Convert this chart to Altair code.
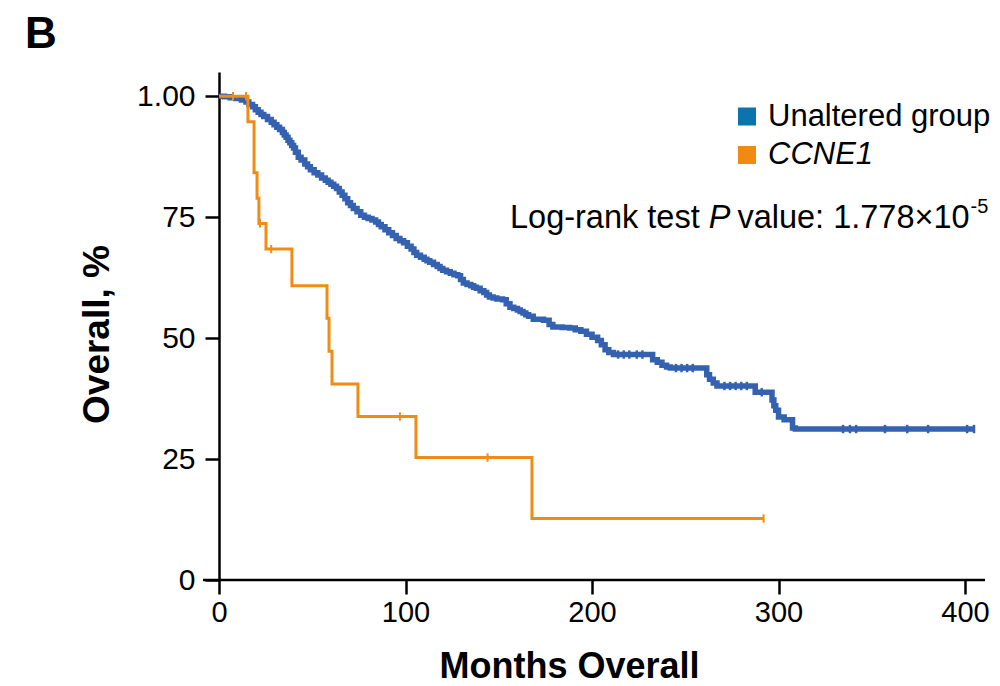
import altair as alt
import pandas as pd

# ---------------- data ----------------
blue_months = [0, 3, 6, 9, 12, 14.5, 16, 18, 19.5, 21, 22.5, 24, 26, 28, 29.5, 31, 32.5, 34, 35,
               36, 37, 38, 39, 40, 41, 42.5, 44, 46, 47.5, 49, 51, 53, 55, 57, 58.5, 60, 61.5, 63,
               64.5, 66, 67.5, 69, 70.5, 72, 74, 76, 78, 80, 82, 84, 85.5, 87, 89, 91, 93, 95, 97,
               99, 101, 103, 104.5, 106, 108, 110, 111.5, 113, 115, 117, 118.5, 120, 122, 124, 126,
               128, 129.5, 131, 133, 135, 136.5, 138, 140, 142, 143.5, 145, 147, 149, 152, 154,
               156, 158, 160, 161.5, 163, 164.5, 166, 168.5, 174, 177, 179, 184, 188, 191, 194,
               197, 200, 203, 205, 207, 209, 211.5, 232.5, 235, 237.5, 240, 242, 261.5, 263, 265,
               267, 287.5, 296.5, 297.5, 298.5, 300, 303, 307.5, 309, 405]
blue_surv = [1.000, 0.999, 0.997, 0.995, 0.992, 0.988, 0.983, 0.978, 0.972, 0.967, 0.962, 0.958,
             0.952, 0.946, 0.941, 0.936, 0.931, 0.925, 0.920, 0.915, 0.909, 0.904, 0.898, 0.893,
             0.884, 0.874, 0.868, 0.860, 0.854, 0.848, 0.842, 0.837, 0.831, 0.826, 0.822, 0.818,
             0.814, 0.809, 0.802, 0.795, 0.788, 0.780, 0.774, 0.768, 0.761, 0.754, 0.750, 0.747,
             0.744, 0.740, 0.735, 0.730, 0.724, 0.718, 0.712, 0.706, 0.701, 0.697, 0.690, 0.684,
             0.677, 0.671, 0.667, 0.663, 0.660, 0.657, 0.652, 0.648, 0.644, 0.640, 0.637, 0.634,
             0.631, 0.629, 0.621, 0.614, 0.611, 0.608, 0.605, 0.603, 0.598, 0.594, 0.589, 0.585,
             0.583, 0.581, 0.579, 0.571, 0.564, 0.561, 0.558, 0.555, 0.552, 0.548, 0.545, 0.539,
             0.537, 0.528, 0.523, 0.522, 0.521, 0.517, 0.514, 0.508, 0.502, 0.495, 0.486, 0.476,
             0.470, 0.466, 0.455, 0.450, 0.444, 0.440, 0.438, 0.424, 0.415, 0.407, 0.401, 0.388,
             0.372, 0.360, 0.351, 0.337, 0.331, 0.314, 0.312, 0.312]

blue_cens_months = [214, 217, 220, 224, 227, 245, 248, 251, 254, 271, 274, 277, 280, 283, 291,
                    334.6, 338.3, 341.6, 357.1, 369.0, 380.2, 401.1, 404.8]
blue_cens_surv = [0.466, 0.466, 0.466, 0.466, 0.466, 0.438, 0.438, 0.438, 0.438, 0.401, 0.401,
                  0.401, 0.401, 0.401, 0.388, 0.312, 0.312, 0.312, 0.312, 0.312, 0.312, 0.312, 0.312]

orange_months = [0, 15.5, 18.8, 20.4, 21.4, 25.2, 39.1, 57.9, 59.0, 60.6, 74.5, 105.6, 167.8, 292]
orange_surv = [1.0, 0.947, 0.842, 0.789, 0.737, 0.684, 0.608, 0.541, 0.473, 0.405, 0.338, 0.253,
               0.127, 0.127]
orange_cens_months = [7.5, 14.5, 22, 28, 97, 144, 292]
orange_cens_surv = [1.0, 1.0, 0.737, 0.684, 0.338, 0.253, 0.127]

x_ticks = [0, 100, 200, 300, 400]
y_ticks = [0, 0.25, 0.5, 0.75, 1.0]
legend_labels = ["Unaltered group", "CCNE1"]

BLUE_LINE = "#3462B0"
ORANGE = "#F08C14"
LEG_BLUE = "#0B74AC"
LEG_ORANGE = "#F08A12"
FONT = "Liberation Sans"

W, H = 766, 508
XDOM = [0, 410.7]
YDOM = [0, 1.05]

blue_df = pd.DataFrame({"m": blue_months, "s": blue_surv})
blue_c = pd.DataFrame({"m": blue_cens_months, "s": blue_cens_surv})
orange_df = pd.DataFrame({"m": orange_months, "s": orange_surv})
orange_c = pd.DataFrame({"m": orange_cens_months, "s": orange_cens_surv})

xs = alt.Scale(domain=XDOM, nice=False, zero=False)
ys = alt.Scale(domain=YDOM, nice=False, zero=False)

x_axis = alt.Axis(values=x_ticks, domain=False, grid=False, tickSize=14, tickWidth=2.5,
                  tickColor="black", labelFontSize=29, labelFont=FONT, labelColor="black",
                  labelPadding=4, title="Months Overall", titleFont=FONT, titleFontSize=36,
                  titleFontWeight="bold", titleColor="black", titleX=350, titleY=97,
                  titleBaseline="alphabetic", titleAlign="center", labelFlush=False)
y_axis = alt.Axis(values=y_ticks, grid=False, domainColor="black", domainWidth=2.5,
                  tickSize=14, tickWidth=2.5, tickColor="black", labelFontSize=30,
                  labelFont=FONT, labelColor="black", labelPadding=10,
                  labelExpr="datum.value == 1 ? '1.00' : format(datum.value * 100, 'd')",
                  title="Overall, %", titleFont=FONT, titleFontSize=37, titleFontWeight="bold",
                  titleColor="black", titleX=-111, titleY=262, titleAngle=-90,
                  titleBaseline="alphabetic", titleAlign="center", labelFlush=False)

base_x = alt.X("m:Q", scale=xs, axis=x_axis)
base_y = alt.Y("s:Q", scale=ys, axis=y_axis)

blue_line = alt.Chart(blue_df).mark_line(interpolate="step-after", color=BLUE_LINE,
                                          strokeWidth=5.5).encode(x=base_x, y=base_y)
tick_shape = "M0,-1L0,1"
blue_pts = alt.Chart(blue_c).mark_point(shape=tick_shape, size=70, color=BLUE_LINE,
                                        strokeWidth=2.5, filled=False, opacity=1).encode(
    x=alt.X("m:Q", scale=xs), y=alt.Y("s:Q", scale=ys))
orange_line = alt.Chart(orange_df).mark_line(interpolate="step-after", color=ORANGE,
                                              strokeWidth=3).encode(
    x=alt.X("m:Q", scale=xs), y=alt.Y("s:Q", scale=ys))
orange_pts = alt.Chart(orange_c).mark_point(shape=tick_shape, size=70, color=ORANGE,
                                            strokeWidth=2, filled=False, opacity=1).encode(
    x=alt.X("m:Q", scale=xs), y=alt.Y("s:Q", scale=ys))

# x axis line, extended left to the y tick ends
x_line = alt.Chart(pd.DataFrame({"a": [0]})).mark_rule(color="black", strokeWidth=2.5).encode(
    x=alt.value(-16), x2=alt.value(W), y=alt.value(H))

# legend
leg = pd.DataFrame({"label": legend_labels, "col": [LEG_BLUE, LEG_ORANGE],
                    "yy": [44.5, 83], "style": ["normal", "italic"]})
leg_sq = alt.Chart(leg).mark_square(size=324, opacity=1).encode(
    x=alt.value(528), y=alt.Y("yy:Q", scale=None), color=alt.Color("col:N", scale=None))
leg_txt1 = alt.Chart(leg.iloc[[0]]).mark_text(align="left", baseline="middle", fontSize=31,
                                              font=FONT, color="black").encode(
    x=alt.value(549), y=alt.Y("yy:Q", scale=None), text="label:N")
leg_txt2 = alt.Chart(leg.iloc[[1]]).mark_text(align="left", baseline="middle", fontSize=31,
                                              font=FONT, color="black", fontStyle="italic").encode(
    x=alt.value(549), y=alt.Y("yy:Q", scale=None), text="label:N")

# p-value annotation, pieces laid out with Arial/Liberation metrics
WID = {"L": 556, "o": 556, "g": 556, "-": 333, "r": 333, "a": 556, "n": 556, "k": 500,
       " ": 278, "t": 278, "e": 556, "s": 500, "v": 500, "l": 222, "u": 556, ":": 278,
       "1": 556, ".": 278, "7": 556, "8": 556, "×": 584, "0": 556, "P": 667, "5": 556}
PF = 32.5


def tw(s, f):
    return sum(WID[c] for c in s) * f / 1000.0


p1, p2, p3, p4 = "Log-rank test", "P", "value: 1.778×10", "-5"
x0 = 291
yb = 156
x1 = x0 + tw(p1 + " ", PF)
x2 = x1 + tw(p2 + " ", PF) - 2
x3 = x2 + tw(p3, PF) + 1
ann = alt.layer(
    alt.Chart(pd.DataFrame({"t": [p1]})).mark_text(align="left", baseline="alphabetic",
                                                   fontSize=PF, font=FONT, color="black").encode(
        x=alt.value(x0), y=alt.value(yb), text="t:N"),
    alt.Chart(pd.DataFrame({"t": [p2]})).mark_text(align="left", baseline="alphabetic",
                                                   fontSize=PF, font=FONT, color="black",
                                                   fontStyle="italic").encode(
        x=alt.value(x1), y=alt.value(yb), text="t:N"),
    alt.Chart(pd.DataFrame({"t": [p3]})).mark_text(align="left", baseline="alphabetic",
                                                   fontSize=PF, font=FONT, color="black").encode(
        x=alt.value(x2), y=alt.value(yb), text="t:N"),
    alt.Chart(pd.DataFrame({"t": [p4]})).mark_text(align="left", baseline="alphabetic",
                                                   fontSize=20, font=FONT, color="black").encode(
        x=alt.value(x3), y=alt.value(yb - 15), text="t:N"),
)

panel = alt.Chart(pd.DataFrame({"t": ["B"]})).mark_text(
    align="left", baseline="alphabetic", fontSize=44, font=FONT, fontWeight="bold",
    color="black").encode(x=alt.value(-194), y=alt.value(-24), text="t:N")

chart = alt.layer(blue_line, blue_pts, orange_line, orange_pts, x_line, leg_sq, leg_txt1,
                  leg_txt2, ann, panel).properties(
    width=W, height=H,
    autosize=alt.AutoSizeParams(type="none"),
    padding={"left": 219, "top": 72, "right": 15, "bottom": 106},
    background="white",
).configure_view(stroke=None)

chart.save("out.html", embed_options={"renderer": "svg", "actions": False})
